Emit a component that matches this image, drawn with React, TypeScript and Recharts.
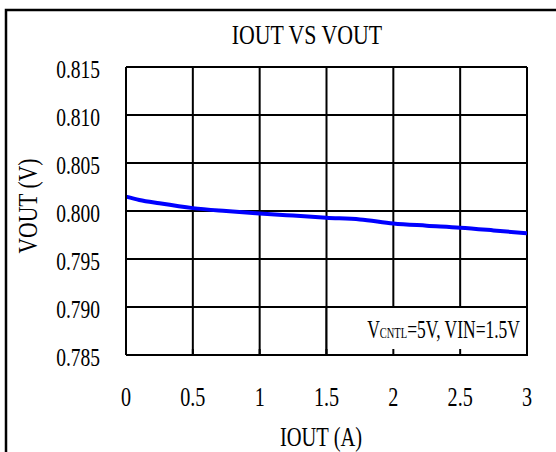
import React from 'react';
import { LineChart, Line, XAxis, YAxis, CartesianGrid, ReferenceArea } from 'recharts';

const iout = [0, 0.1, 0.25, 0.5, 0.75, 1, 1.25, 1.5, 1.75, 2, 2.25, 2.5, 2.75, 3];
const vout = [0.8015, 0.80115, 0.8008, 0.8003, 0.8, 0.79975, 0.79952, 0.7993, 0.79912, 0.7987, 0.79847, 0.79826, 0.79798, 0.79768];
const xTicks = [0, 0.5, 1, 1.5, 2, 2.5, 3];
const xTickLabels = ['0', '0.5', '1', '1.5', '2', '2.5', '3'];
const yTicks = [0.785, 0.79, 0.795, 0.8, 0.805, 0.81, 0.815];
const yTickLabels = ['0.785', '0.790', '0.795', '0.800', '0.805', '0.810', '0.815'];
const title = 'IOUT VS VOUT';
const xLabel = 'IOUT (A)';
const yLabel = 'VOUT (V)';

const data = iout.map((x, i) => ({ x, v: vout[i] }));

const FONT = "'Liberation Serif', 'DejaVu Serif', serif";

const YTick = (props: any) => {
  const { x, y, payload } = props;
  const i = yTicks.indexOf(payload.value);
  return (
    <text x={0} y={0} transform={`translate(${x},${y + 11}) scale(0.78,1)`} textAnchor="end" fontFamily={FONT} fontSize={25} fill="#000">
      {i >= 0 ? yTickLabels[i] : String(payload.value)}
    </text>
  );
};

const XTick = (props: any) => {
  const { x, y, payload } = props;
  const i = xTicks.indexOf(payload.value);
  return (
    <text x={0} y={0} transform={`translate(${x},${y + 21}) scale(0.72,1)`} textAnchor="middle" fontFamily={FONT} fontSize={28} fill="#000">
      {i >= 0 ? xTickLabels[i] : String(payload.value)}
    </text>
  );
};

const NoteLabel = (props: any) => {
  const vb = props.viewBox || {};
  const right = vb.x + vb.width - 7;
  const base = vb.y + 31;
  return (
    <text x={0} y={0} transform={`translate(${right},${base}) scale(0.7,1)`} textAnchor="end" fontFamily={FONT} fontSize={25} fill="#000">
      V<tspan fontSize={15}>CNTL</tspan>=5V, VIN=1.5V
    </text>
  );
};

export default function App() {
  return (
    <div style={{ position: 'absolute', left: 0, top: 0, width: 556, height: 452, background: '#fff', overflow: 'hidden' }}>
      <LineChart width={556} height={452} data={data} margin={{ top: 67, right: 29, bottom: 67, left: 66 }}>
        <CartesianGrid stroke="#000" strokeWidth={2} strokeDasharray="" />
        <XAxis
          dataKey="x"
          type="number"
          domain={[0, 3]}
          ticks={xTicks}
          height={30}
          axisLine={{ stroke: '#000', strokeWidth: 2 }}
          tickLine={{ stroke: '#000', strokeWidth: 2 }}
          tickSize={-6}
          tickMargin={36}
          tick={<XTick />}
          interval={0}
        />
        <YAxis
          type="number"
          domain={[0.785, 0.815]}
          ticks={yTicks}
          width={60}
          axisLine={{ stroke: '#000', strokeWidth: 2 }}
          tickLine={{ stroke: '#000', strokeWidth: 2 }}
          tickSize={-6}
          tickMargin={32}
          tick={<YTick />}
          interval={0}
          allowDataOverflow
        />
        <ReferenceArea x1={1.5} x2={3} y1={0.785} y2={0.79} fill="#fff" fillOpacity={1} stroke="#000" strokeWidth={2} label={<NoteLabel />} />
        <Line type="monotone" dataKey="v" stroke="#0000FF" strokeWidth={4} dot={false} isAnimationActive={false} />
      </LineChart>
      <svg width={556} height={452} style={{ position: 'absolute', left: 0, top: 0, pointerEvents: 'none' }}>
        <rect x={6} y={10} width={600} height={500} fill="none" stroke="#000" strokeWidth={2.5} />
        <text x={0} y={0} transform="translate(307,44) scale(0.78,1)" textAnchor="middle" fontFamily={FONT} fontSize={28} fill="#000">{title}</text>
        <text x={0} y={0} transform="translate(321,446) scale(0.76,1)" textAnchor="middle" fontFamily={FONT} fontSize={27} fill="#000">{xLabel}</text>
        <text x={0} y={0} transform="translate(37,206) rotate(-90) scale(0.8,1)" textAnchor="middle" fontFamily={FONT} fontSize={27} fill="#000">{yLabel}</text>
      </svg>
    </div>
  );
}
